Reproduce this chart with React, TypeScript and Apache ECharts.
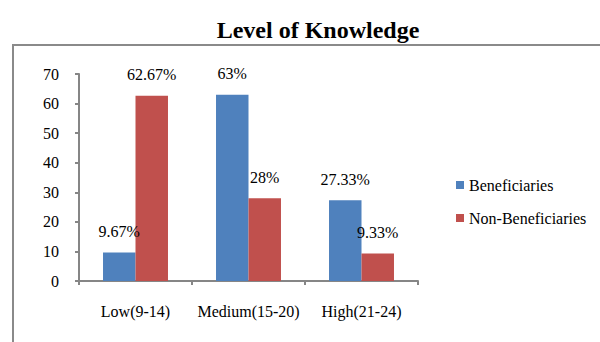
import React, { useEffect, useRef } from "react";
import * as echarts from "echarts";

const categories = ["Low(9-14)", "Medium(15-20)", "High(21-24)"];
const beneficiaries = [9.67, 63, 27.33];
const nonBeneficiaries = [62.67, 28, 9.33];
const beneficiaryLabels = ["9.67%", "63%", "27.33%"];
const nonBeneficiaryLabels = ["62.67%", "28%", "9.33%"];

const FONT = "Liberation Serif";

export default function App() {
  const ref = useRef<HTMLDivElement>(null);
  useEffect(() => {
    const chart = echarts.init(ref.current!, undefined, { renderer: "svg" });
    const axisColor = "#868686";
    const txt = { fontFamily: FONT, fontSize: 16, color: "#000", fontWeight: "normal" as const };
    chart.setOption({
      animation: false,
      backgroundColor: "#ffffff",
      textStyle: { fontFamily: FONT, color: "#000" },
      title: {
        text: "Level of Knowledge",
        left: 313,
        top: 13,
        textAlign: "center",
        textStyle: { fontFamily: FONT, fontSize: 24, fontWeight: "bold", color: "#000" },
      },
      graphic: [
        {
          type: "rect",
          shape: { x: 13, y: 45, width: 700, height: 400 },
          style: { fill: "none", stroke: "#8a8a8a", lineWidth: 2 },
          silent: true,
        },
      ],
      legend: {
        orient: "vertical",
        left: 451,
        top: 172,
        itemWidth: 8,
        itemHeight: 8,
        itemGap: 17,
        icon: "rect",
        textStyle: { ...txt },
        data: ["Beneficiaries", "Non-Beneficiaries"],
      },
      grid: { left: 79, right: 182, top: 74, bottom: 61, containLabel: false },
      xAxis: {
        type: "category",
        data: categories,
        axisLine: { lineStyle: { color: axisColor, width: 2 } },
        axisTick: { show: true, length: 4, lineStyle: { color: axisColor, width: 2 } },
        axisLabel: { ...txt, margin: 22, interval: 0, hideOverlap: false },
      },
      yAxis: {
        type: "value",
        min: 0,
        max: 70,
        interval: 10,
        splitLine: { show: false },
        axisLine: { show: true, lineStyle: { color: axisColor, width: 2 } },
        axisTick: { show: true, length: 4, lineStyle: { color: axisColor, width: 2 } },
        axisLabel: { ...txt, margin: 20 },
      },
      series: [
        {
          name: "Beneficiaries",
          type: "bar",
          data: beneficiaries,
          itemStyle: { color: "#4F81BD" },
          barGap: "0%",
          barCategoryGap: "42.5%",
          label: {
            show: true,
            position: "top",
            distance: 13,
            ...txt,
            formatter: (p: any) => beneficiaryLabels[p.dataIndex],
          },
        },
        {
          name: "Non-Beneficiaries",
          type: "bar",
          data: nonBeneficiaries,
          itemStyle: { color: "#C0504D" },
          barGap: "0%",
          barCategoryGap: "42.5%",
          label: {
            show: true,
            position: "top",
            distance: 13,
            ...txt,
            formatter: (p: any) => nonBeneficiaryLabels[p.dataIndex],
          },
        },
      ],
    });
    return () => chart.dispose();
  }, []);
  return <div ref={ref} style={{ width: 600, height: 342, position: "absolute", left: 0, top: 0 }} />;
}
